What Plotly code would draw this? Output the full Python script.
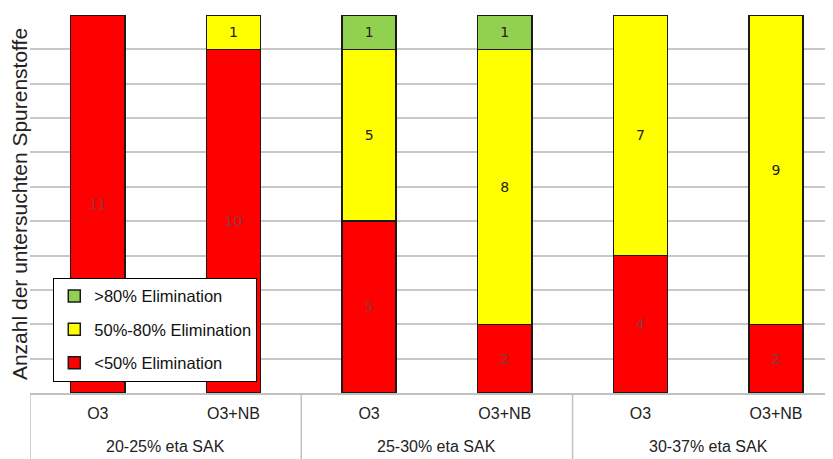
import plotly.graph_objects as go

categories = ["O3", "O3+NB", "O3", "O3+NB", "O3", "O3+NB"]
groups = ["20-25% eta SAK", "25-30% eta SAK", "30-37% eta SAK"]
lt50 = [11, 10, 5, 2, 4, 2]
mid = [0, 1, 5, 8, 7, 9]
gt80 = [0, 0, 1, 1, 0, 0]
series_names = ["<50% Elimination", "50%-80% Elimination", ">80% Elimination"]
colors = ["#FF0000", "#FFFF00", "#92D050"]
text_colors = ["#8a3a3a", "#222222", "#222222"]
legend_ranks = [3, 2, 1]

xpos = list(range(len(categories)))

fig = go.Figure()
for i, (name, vals) in enumerate(zip(series_names, [lt50, mid, gt80])):
    y = [v if v else None for v in vals]
    txt = [str(v) if v else "" for v in vals]
    fig.add_trace(go.Bar(
        x=xpos, y=y, name=name, text=txt,
        textposition="inside", insidetextanchor="middle",
        textfont=dict(family="DejaVu Sans", size=14, color=text_colors[i]),
        marker=dict(color=colors[i], line=dict(color="#1a1a1a", width=1.5)),
        width=0.4, legendgroup=name, legendrank=legend_ranks[i], cliponaxis=False,
    ))

plot_h = 451 - 7 - 66
shapes = []
for xv in [-0.5, 1.5, 3.5]:
    shapes.append(dict(type="line", xref="x", yref="paper", x0=xv, x1=xv,
                       y0=0, y1=-70 / plot_h, line=dict(color="#c0c0c0", width=1.5)))

annotations = []
for g, name in enumerate(groups):
    annotations.append(dict(x=2 * g + 0.5, y=-53 / plot_h, xref="x", yref="paper",
                            text=name, showarrow=False, yanchor="middle",
                            font=dict(family="Liberation Sans", size=16, color="#222222")))

fig.update_layout(
    barmode="stack",
    width=825, height=451,
    margin=dict(l=22, r=0, t=7, b=66, autoexpand=False),
    plot_bgcolor="white", paper_bgcolor="white",
    showlegend=True,
    legend=dict(
        x=0.029, y=0.03, xanchor="left", yanchor="bottom",
        traceorder="grouped", tracegroupgap=9,
        bordercolor="#000000", borderwidth=1, bgcolor="white",
        font=dict(family="Liberation Sans", size=16.5, color="#111111"),
        itemwidth=30,
    ),
    shapes=shapes,
    annotations=annotations,
)
fig.update_xaxes(
    range=[-0.5, 5.42], tickvals=xpos, ticktext=categories, automargin=False,
    showgrid=False, zeroline=False, showline=True, linecolor="#c0c0c0", linewidth=1.5,
    ticks="", tickfont=dict(family="Liberation Sans", size=16, color="#222222"),
    ticklabelstandoff=5,
)
fig.update_yaxes(
    range=[0, 11], dtick=1, showticklabels=False, showgrid=True, automargin=False,
    gridcolor="#c8c8c8", gridwidth=2, zeroline=False, ticks="",
    title=dict(text="Anzahl der untersuchten Spurenstoffe", standoff=1,
               font=dict(family="Liberation Sans", size=21, color="#222222")),
)

fig.write_html("out.html")
